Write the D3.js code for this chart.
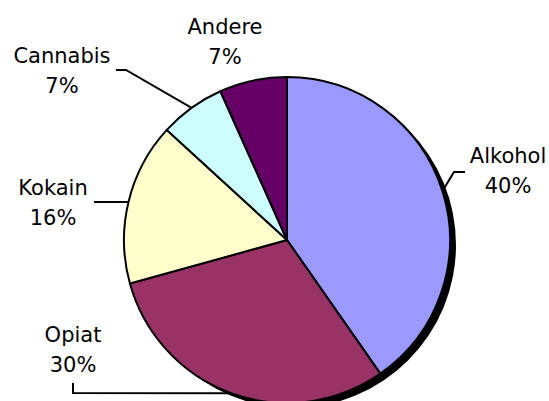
<!DOCTYPE html>
<html>
<head>
<meta charset="utf-8">
<script src="https://cdn.jsdelivr.net/npm/d3@7"></script>
<style>
  html, body { margin: 0; padding: 0; background: #fff; }
  svg { display: block; }
</style>
</head>
<body>
<div id="chart"></div>
<script>
// Daten
const categories = ["Alkohol", "Opiat", "Kokain", "Cannabis", "Andere"];
const values = [40.3, 30.4, 16.1, 6.5, 6.7];
const colors = ["#9999ff", "#993366", "#ffffcc", "#ccffff", "#660066"];

// Beschriftungen: Mittelpunkt x und erste Grundlinie, relativ zum Kreismittelpunkt
const labelPos = [[221, -77], [-214, 102], [-234, -45], [-225, -177], [-62, -206]];
// Führungslinien: Knick- und Endpunkt relativ zum Kreismittelpunkt (null = keine Linie)
const leaders = [
    [[167, -68], [178, -68]],
    [[-214, 153], [-214, 143]],
    [[-193, -38]],
    [[-161, -170], [-171, -170]],
    null
];

const width = 549;
const height = 401;
const cx = 287;
const cy = 240;
const radius = 163;
const lineGap = 30;

const svg = d3.select("#chart")
    .append("svg")
    .attr("width", width)
    .attr("height", height);

const g = svg.append("g").attr("transform", `translate(${cx},${cy})`);

const pie = d3.pie().sort(null).value(d => d)(values);
const arc = d3.arc().innerRadius(0).outerRadius(radius);

// Schatten
g.append("circle")
    .attr("cx", 6)
    .attr("cy", 5)
    .attr("r", radius)
    .attr("fill", "#000");

// Segmente
g.selectAll("path.slice")
    .data(pie)
    .enter()
    .append("path")
    .attr("class", "slice")
    .attr("d", arc)
    .attr("fill", (d, i) => colors[i])
    .attr("stroke", "#000")
    .attr("stroke-width", 2)
    .attr("stroke-linejoin", "round");

// Führungslinien
const edgePoint = d => {
    const a = (d.startAngle + d.endAngle) / 2;
    return [radius * Math.sin(a), -radius * Math.cos(a)];
};

g.selectAll("polyline.leader")
    .data(pie.filter((d, i) => leaders[i]))
    .enter()
    .append("polyline")
    .attr("class", "leader")
    .attr("points", d => [edgePoint(d)].concat(leaders[d.index]).map(p => p.join(",")).join(" "))
    .attr("fill", "none")
    .attr("stroke", "#000")
    .attr("stroke-width", 2);

// Beschriftungen
const labels = g.selectAll("text.label")
    .data(pie)
    .enter()
    .append("text")
    .attr("class", "label")
    .attr("text-anchor", "middle")
    .attr("font-family", "'DejaVu Sans', Verdana, sans-serif")
    .attr("font-size", "21px")
    .attr("fill", "#000");

labels.append("tspan")
    .attr("x", (d, i) => labelPos[i][0])
    .attr("y", (d, i) => labelPos[i][1])
    .text((d, i) => categories[i]);

labels.append("tspan")
    .attr("x", (d, i) => labelPos[i][0])
    .attr("y", (d, i) => labelPos[i][1] + lineGap)
    .text(d => Math.round(d.value) + "%");
</script>
</body>
</html>
